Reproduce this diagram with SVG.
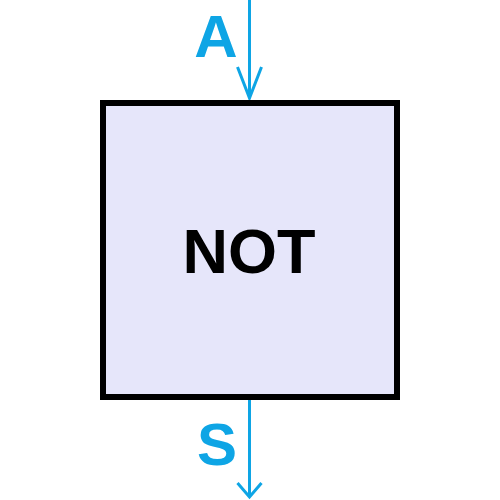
<svg xmlns="http://www.w3.org/2000/svg" width="500" height="500" viewBox="0 0 500 500">
<style>
.wire{stroke:#0EA5E5;stroke-width:3;fill:none}
.lbl{font-family:"Liberation Sans",Arial,sans-serif;font-weight:bold;fill:#0EA5E5;text-anchor:middle}
.gate{fill:#E6E6FA;stroke:#000;stroke-width:6}
.gtxt{font-family:"Liberation Sans",Arial,sans-serif;font-weight:bold;font-size:63px;fill:#000;text-anchor:middle}
</style>
<defs>
<marker id="arr" markerUnits="userSpaceOnUse" viewBox="-14 -32 28 34" refX="0" refY="0" markerWidth="28" markerHeight="34" orient="auto-start-reverse">
<path d="M-12,-31 L0,0 L12,-31" fill="none" stroke="#0EA5E5" stroke-width="3"/>
</marker>
</defs>
<g id="connectors">
<line class="wire" x1="249.5" y1="0" x2="249.5" y2="98"/>
<path class="wire" d="M237.5,67 L249.5,98 L261.5,67"/>
<line class="wire" x1="249.5" y1="400" x2="249.5" y2="497"/>
<path class="wire" d="M237.5,483 L249.5,497 L261.5,483"/>
</g>
<g id="label-A"><text class="lbl" x="216" y="57" font-size="60">A</text></g>
<g id="label-S"><text class="lbl" x="217" y="465" font-size="60">S</text></g>
<g id="not-gate">
<rect class="gate" x="103" y="103" width="294" height="294"/>
<text class="gtxt" x="249" y="273">NOT</text>
</g>
</svg>
